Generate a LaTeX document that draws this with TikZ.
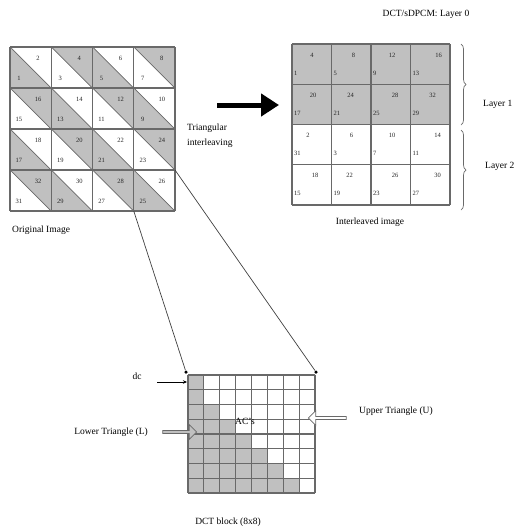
\documentclass[tikz,border=0pt]{standalone}
\usepackage{fontspec}
\setmainfont{Liberation Serif}
\usetikzlibrary{arrows.meta,shapes.arrows,decorations.pathreplacing}
\definecolor{cellgray}{RGB}{192,192,192}
\definecolor{linegray}{RGB}{105,105,105}
\begin{document}
\begin{tikzpicture}[x=1pt,y=-1pt,
  gridline/.style={draw=linegray, line width=1.1pt},
  thinline/.style={draw=linegray, line width=0.7pt},
  num/.style={font=\fontsize{6.5}{7}\selectfont, inner sep=0pt, text=black!85},
  lbl/.style={font=\fontsize{9.5}{11}\selectfont, inner sep=0pt},
  hollow/.style={single arrow, draw=linegray, line width=0.7pt, minimum width=15pt,
    single arrow head extend=3.5pt, inner sep=0.5pt, anchor=center},
  dotmark/.style={circle, fill=black, inner sep=0pt, minimum size=3.5pt}
]
\useasboundingbox (0,0) rectangle (517,531);

% ---------------- original image ----------------
\def\ow{41.25}\def\oh{41}
\foreach \c/\r/\u/\l in {0/0/2/1,1/0/4/3,2/0/6/5,3/0/8/7,
                         0/1/16/15,1/1/14/13,2/1/12/11,3/1/10/9,
                         0/2/18/17,1/2/20/19,2/2/22/21,3/2/24/23,
                         0/3/32/31,1/3/30/29,2/3/28/27,3/3/26/25}{
  \pgfmathsetmacro\xa{10+\ow*\c}
  \pgfmathsetmacro\ya{47+\oh*\r}
  \pgfmathsetmacro\xb{\xa+\ow}
  \pgfmathsetmacro\yb{\ya+\oh}
  \pgfmathtruncatemacro\pp{mod(\r+\c,2)}
  \ifnum\pp=0
    \fill[cellgray] (\xa,\ya) -- (\xa,\yb) -- (\xb,\yb) -- cycle;
  \else
    \fill[cellgray] (\xa,\ya) -- (\xb,\ya) -- (\xb,\yb) -- cycle;
  \fi
  \draw[thinline] (\xa,\ya) -- (\xb,\yb);
  \node[num] (ou\c\r) at ({\xa+28},{\ya+11}) {\u};
  \node[num] (ol\c\r) at ({\xa+9},{\ya+31}) {\l};
}
\foreach \i in {0,...,4}{
  \draw[gridline] ({10+\ow*\i},47) -- ({10+\ow*\i},{47+4*\oh});
  \draw[gridline] (10,{47+\oh*\i}) -- ({10+4*\ow},{47+\oh*\i});
}
\node[lbl, anchor=west] (origlbl) at (12,230) {Original Image};

% ---------------- big arrow ----------------
\coordinate (ba) at (217,105);
\coordinate (bb) at (279,105);
\draw[line width=5pt, -{Triangle[length=18pt,width=22pt]}] (ba) -- (bb);
\node[lbl, anchor=west, align=left, font=\fontsize{9.5}{15}\selectfont] (trilbl) at (187,136) {Triangular\\interleaving};

% ---------------- interleaved image ----------------
\def\iw{39.5}\def\ih{40.25}
\fill[cellgray] (292,44) rectangle ({292+4*\iw},{44+2*\ih});
\foreach \c/\r/\t/\b/\dx in {0/0/4/1/20,1/0/8/5/22,2/0/12/9/21,3/0/16/13/28,
                             0/1/20/17/21,1/1/24/21/19,2/1/28/25/24,3/1/32/29/22,
                             0/2/2/31/16,1/2/6/3/20,2/2/10/7/21,3/2/14/11/27,
                             0/3/18/15/23,1/3/22/19/18,2/3/26/23/24,3/3/30/27/27}{
  \pgfmathsetmacro\xa{292+\iw*\c}
  \pgfmathsetmacro\ya{44+\ih*\r}
  \node[num] (it\c\r) at ({\xa+\dx},{\ya+11}) {\t};
  \node[num, anchor=west] (ib\c\r) at ({\xa+2},{\ya+29}) {\b};
}
\foreach \i in {0,...,4}{
  \draw[gridline] ({292+\iw*\i},44) -- ({292+\iw*\i},{44+4*\ih});
  \draw[gridline] (292,{44+\ih*\i}) -- ({292+4*\iw},{44+\ih*\i});
}
\node[lbl] (toplbl) at (426,14) {DCT/sDPCM: Layer 0};
\node[lbl] (intlbl) at (370,222) {Interleaved image};
\coordinate (br1a) at (461,44);
\coordinate (br1b) at (461,125);
\coordinate (br2a) at (461,130);
\coordinate (br2b) at (461,210);
\draw[thinline, decorate, decoration={brace, amplitude=5pt}] (br1a) -- (br1b);
\draw[thinline, decorate, decoration={brace, amplitude=5pt}] (br2a) -- (br2b);
\node[lbl, anchor=west] (l1lbl) at (483,104) {Layer 1};
\node[lbl, anchor=west] (l2lbl) at (485,166) {Layer 2};

% ---------------- DCT block ----------------
\def\dw{15.875}\def\dh{14.75}
\foreach \r in {0,...,7}{
  \pgfmathtruncatemacro\m{max(1,\r)}
  \fill[cellgray] (188,{375+\dh*\r}) rectangle ({188+\dw*\m},{375+\dh*(\r+1)});
}
\foreach \i in {0,...,8}{
  \draw[gridline] ({188+\dw*\i},375) -- ({188+\dw*\i},{375+8*\dh});
  \draw[gridline] (188,{375+\dh*\i}) -- ({188+8*\dw},{375+\dh*\i});
}
\node[lbl] (acs) at (245,421) {AC's};
\node[lbl] (dctlbl) at (228,522) {DCT block (8x8)};

% dots and mapping lines
\node[dotmark] (dl) at (186,372) {};
\node[dotmark] (dr) at (316,372) {};
\coordinate (cl) at (133.75,211);
\coordinate (cr) at (175,170);
\draw[line width=0.7pt, black!75] (cl) -- (dl);
\draw[line width=0.7pt, black!75] (cr) -- (dr);

% dc
\node[lbl] (dc) at (137,376) {dc};
\coordinate (dcs) at (157,382);
\coordinate (dct) at (187,382);
\draw[line width=0.6pt, -{Stealth[length=4pt,width=3.5pt]}] (dcs) -- (dct);

% hollow arrows
\node[hollow, fill=cellgray, minimum height=34pt] (la) at (179,432) {};
\node[hollow, fill=white, minimum height=38pt, shape border rotate=180] (ua) at (328,418) {};
\node[lbl, anchor=east] (lt) at (148,432) {Lower Triangle (L)};
\node[lbl, anchor=west] (ut) at (359,411) {Upper Triangle (U)};
\end{tikzpicture}
\end{document}
